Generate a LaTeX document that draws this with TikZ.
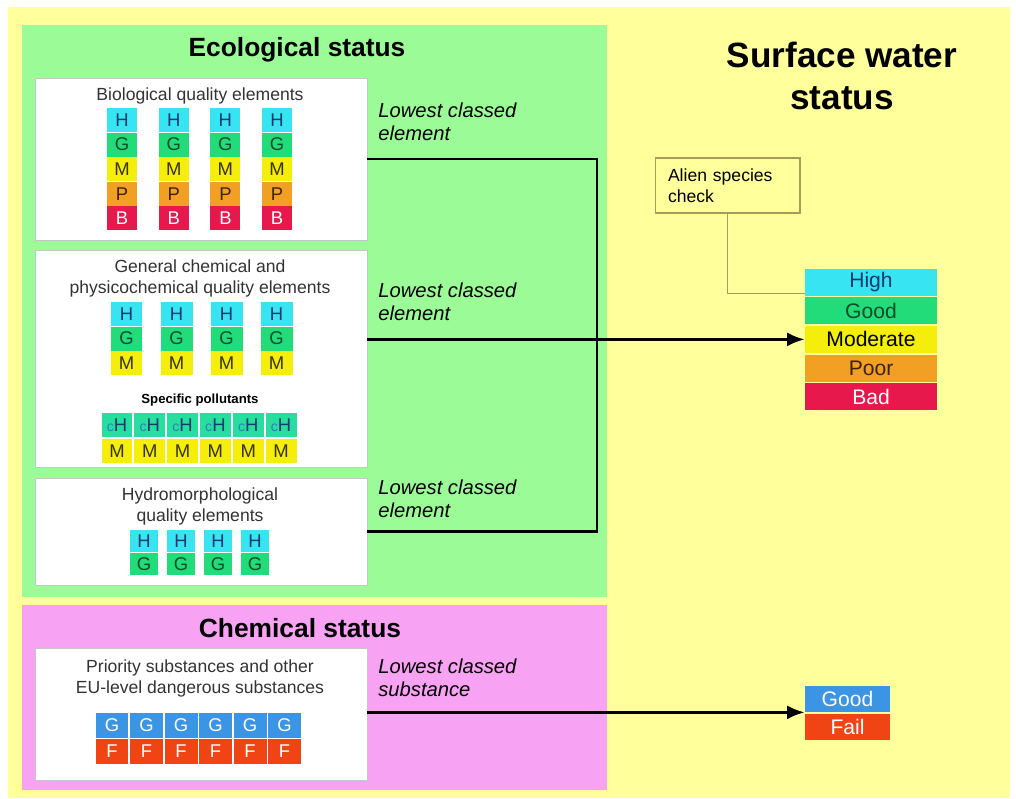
\documentclass[tikz,border=0pt]{standalone}
\usepackage{fontspec}
\setmainfont{Liberation Sans}
\usepackage{xcolor}
\usetikzlibrary{positioning,arrows.meta}

\definecolor{bgyellow}{HTML}{FFFF9C}
\definecolor{ecogreen}{HTML}{9BFB96}
\definecolor{chempink}{HTML}{F7A2F2}
\definecolor{cH}{HTML}{36E4F2}
\definecolor{cG}{HTML}{22DC7A}
\definecolor{cM}{HTML}{F4EE0A}
\definecolor{cP}{HTML}{F2A024}
\definecolor{cB}{HTML}{E6184C}
\definecolor{cGood}{HTML}{3C94E4}
\definecolor{cFail}{HTML}{F04414}
\definecolor{tH}{HTML}{123A6E}
\definecolor{tG}{HTML}{0C4A2A}
\definecolor{tM}{HTML}{3A3200}
\definecolor{tP}{HTML}{3E2204}
\definecolor{tc}{HTML}{2A7FC8}
\definecolor{alienline}{HTML}{A89A5A}

\begin{document}
\begin{tikzpicture}[x=0.02cm, y=-0.02cm]
    % Define styles
    \tikzstyle{panel} = [rectangle, inner sep=0pt]
    \tikzstyle{whitebox} = [rectangle, draw=gray!45, fill=white, minimum width=6.64cm, inner sep=0pt]
    \tikzstyle{cell} = [rectangle, inner sep=0pt, text centered, font=\fontsize{10.5}{12}\selectfont]
    \tikzstyle{header} = [font=\bfseries\fontsize{15}{18}\selectfont]
    \tikzstyle{caption} = [align=center, text=black!80, font=\fontsize{10}{12}\selectfont]
    \tikzstyle{lowest} = [align=left, anchor=west, inner sep=0pt, font=\itshape\fontsize{11.5}{13}\selectfont]
    \tikzstyle{statusbox} = [rectangle, inner sep=0pt, minimum width=2.64cm, minimum height=0.54cm, font=\fontsize{12}{14}\selectfont]
    \tikzstyle{link} = [line width=1.6pt]

    % Background and panels
    \useasboundingbox (0,0) rectangle (1016,798);
    \fill[bgyellow] (8,7) rectangle (1010,798);
    \node[panel, fill=ecogreen, minimum width=11.7cm, minimum height=11.44cm] (eco) at (314.5,311) {};
    \node[panel, fill=chempink, minimum width=11.7cm, minimum height=3.7cm] (chem) at (314.5,697.5) {};
    \node[header] (ecotitle) at (297,50) {Ecological status};
    \node[header] (chemtitle) at (300,628) {Chemical status};
    \node[font=\bfseries\fontsize{20}{24}\selectfont, align=center] (swtitle) at (842,76) {Surface water\\status};

    % Element boxes
    \node[whitebox, minimum height=3.24cm] (bio) at (201,159) {};
    \node[whitebox, minimum height=4.34cm] (gen) at (201,358.5) {};
    \node[whitebox, minimum height=2.14cm] (hydro) at (201,531.5) {};
    \node[whitebox, minimum height=2.64cm] (prio) at (201,714) {};

    \node[caption] (biotitle) at (200,96) {Biological quality elements};
    \node[caption] (gentitle) at (200,278) {General chemical and\\physicochemical quality elements};
    \node[font=\bfseries\fontsize{7.5}{9}\selectfont] (spectitle) at (200,400) {Specific pollutants};
    \node[caption] (hydrotitle) at (200,506) {Hydromorphological\\quality elements};
    \node[caption] (priotitle) at (200,678) {Priority substances and other\\EU-level dangerous substances};

    % Class cells
    \foreach \c in {0,...,3}
      \foreach \lbl/\clr/\tclr [count=\r from 0] in {H/cH/tH, G/cG/tG, M/cM/tM, P/cP/tP, B/cB/white}
        \node[cell, fill=\clr, text=\tclr, minimum width=0.6cm, minimum height=0.48cm] (bio-\c-\r) at (122+51.7*\c,120+24.6*\r) {\lbl};
    \foreach \c in {0,...,3}
      \foreach \lbl/\clr/\tclr [count=\r from 0] in {H/cH/tH, G/cG/tG, M/cM/tM}
        \node[cell, fill=\clr, text=\tclr, minimum width=0.64cm, minimum height=0.48cm] (gen-\c-\r) at (126.5+50*\c,314+24.5*\r) {\lbl};
    \foreach \c in {0,...,5} {
        \node[cell, fill=cG!70!cH, minimum width=0.62cm, minimum height=0.48cm] (spec-\c-0) at (117+32.8*\c,425) {\textcolor{tc}{\fontsize{8}{9}\selectfont c}\textcolor{tH}{H}};
        \node[cell, fill=cM, text=tM, minimum width=0.62cm, minimum height=0.48cm] (spec-\c-1) at (117+32.8*\c,451) {M};
    }
    \foreach \c in {0,...,3}
      \foreach \lbl/\clr/\tclr [count=\r from 0] in {H/cH/tH, G/cG/tG}
        \node[cell, fill=\clr, text=\tclr, minimum width=0.56cm, minimum height=0.44cm] (hydro-\c-\r) at (144+37*\c,541+23*\r) {\lbl};
    \foreach \c in {0,...,5}
      \foreach \lbl/\clr [count=\r from 0] in {G/cGood, F/cFail}
        \node[cell, fill=\clr, text=white, minimum width=0.66cm, minimum height=0.5cm] (prio-\c-\r) at (112+34.5*\c,725.5+26*\r) {\lbl};

    % Lowest classed labels
    \node[lowest] (low1) at (378,121.5) {Lowest classed\\element};
    \node[lowest] (low2) at (378,301.5) {Lowest classed\\element};
    \node[lowest] (low3) at (378,498.5) {Lowest classed\\element};
    \node[lowest] (low4) at (378,678) {Lowest classed\\substance};

    % Status scales
    \node[statusbox, fill=cH, text=tH] (high) at (871,282) {High};
    \node[statusbox, fill=cG, text=tG, below=0.02cm of high] (good) {Good};
    \node[statusbox, fill=cM, text=black, below=0.02cm of good] (moderate) {Moderate};
    \node[statusbox, fill=cP, text=tP, below=0.02cm of moderate] (poor) {Poor};
    \node[statusbox, fill=cB, text=white, below=0.02cm of poor] (bad) {Bad};

    \node[statusbox, fill=cGood, text=white, minimum width=1.7cm, minimum height=0.52cm] (chemgood) at (847.5,699) {Good};
    \node[statusbox, fill=cFail, text=white, minimum width=1.7cm, minimum height=0.52cm, below=0.02cm of chemgood] (chemfail) {Fail};

    \node[draw=alienline, line width=0.6pt, text width=2.38cm, inner xsep=0.26cm, minimum height=1.1cm, align=left, font=\fontsize{10}{12}\selectfont] (alien) at (727.5,185.5) {Alien species\\check};

    % Connectors
    \coordinate (jtop) at (597,159);
    \draw[link] (bio.east) -- (jtop) -- (jtop |- hydro.east) -- (hydro.east);
    \draw[link, -{Latex[length=10pt,width=8pt]}] (gen.east |- moderate.west) -- (moderate.west);
    \draw[link, -{Latex[length=10pt,width=8pt]}] (prio.east |- chemgood.south west) -- (chemgood.south west);
    \draw[alienline, line width=0.6pt] (alien.south) |- ([yshift=0.04cm]high.south west);
\end{tikzpicture}
\end{document}
